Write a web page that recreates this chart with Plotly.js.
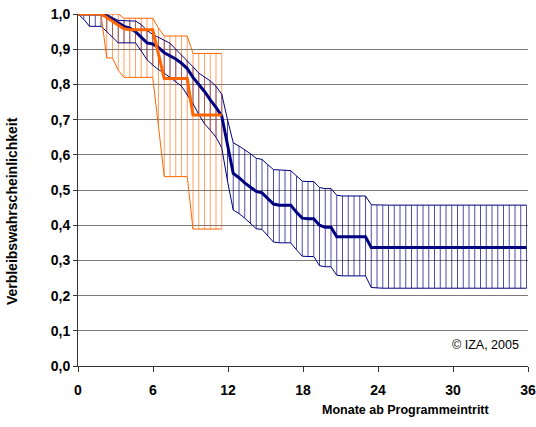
<!DOCTYPE html>
<html>
<head>
<meta charset="utf-8">
<script src="https://cdn.plot.ly/plotly-3.0.1.min.js"></script>
<style>
html, body { margin: 0; padding: 0; background: #fff; }
#chart { width: 536px; height: 427px; }
</style>
</head>
<body>
<div id="chart"></div>
<script>
// Months since programme entry (two-week steps)
const months = [0,0.46,0.92,1.38,1.84,2.30,2.76,3.22,3.68,4.14,4.60,5.06,5.52,5.98,6.44,6.90,7.36,7.82,8.28,8.74,9.20,9.66,10.12,10.58,11.04,11.50,11.96,12.42,12.88,13.34,13.80,14.26,14.72,15.18,15.64,16.10,16.56,17.02,17.48,17.94,18.40,18.86,19.32,19.78,20.24,20.70,21.16,21.62,22.08,22.54,23.00,23.46,23.92,24.38,24.84,25.30,25.76,26.22,26.68,27.14,27.60,28.06,28.52,28.98,29.44,29.90,30.36,30.82,31.28,31.74,32.20,32.66,33.12,33.58,34.04,34.50,34.96,35.42,35.88];

// Blue series: estimate and confidence band
const blueMain = [1.0,1.0,1.0,1.0,1.0,0.993,0.985,0.975,0.965,0.96,0.95,0.935,0.918,0.915,0.905,0.89,0.882,0.872,0.86,0.845,0.82,0.80,0.78,0.756,0.735,0.71,0.63,0.547,0.535,0.52,0.508,0.496,0.492,0.475,0.46,0.457,0.457,0.457,0.437,0.42,0.418,0.418,0.40,0.394,0.394,0.367,0.367,0.367,0.367,0.367,0.367,0.337,0.337,0.337,0.337,0.337,0.337,0.337,0.337,0.337,0.337,0.337,0.337,0.337,0.337,0.337,0.337,0.337,0.337,0.337,0.337,0.337,0.337,0.337,0.337,0.337,0.337,0.337,0.337];
const blueUpper = [1.0,1.0,1.0,1.0,1.0,1.0,0.99,0.982,0.981,0.981,0.98,0.97,0.953,0.942,0.934,0.925,0.917,0.90,0.884,0.868,0.85,0.832,0.82,0.81,0.795,0.772,0.70,0.634,0.625,0.615,0.603,0.59,0.587,0.572,0.558,0.557,0.557,0.555,0.54,0.525,0.524,0.524,0.507,0.504,0.504,0.485,0.483,0.483,0.483,0.483,0.483,0.458,0.457,0.457,0.457,0.457,0.457,0.457,0.457,0.457,0.457,0.457,0.457,0.457,0.457,0.457,0.457,0.457,0.457,0.457,0.457,0.457,0.457,0.457,0.457,0.457,0.457,0.457,0.457];
const blueLower = [1.0,0.985,0.965,0.965,0.965,0.95,0.935,0.918,0.918,0.918,0.918,0.895,0.87,0.855,0.842,0.832,0.82,0.808,0.795,0.77,0.745,0.715,0.688,0.67,0.65,0.62,0.525,0.443,0.433,0.42,0.405,0.39,0.388,0.37,0.352,0.35,0.35,0.35,0.33,0.312,0.311,0.311,0.285,0.282,0.282,0.258,0.256,0.256,0.256,0.256,0.256,0.223,0.221,0.221,0.221,0.221,0.221,0.221,0.221,0.221,0.221,0.221,0.221,0.221,0.221,0.221,0.221,0.221,0.221,0.221,0.221,0.221,0.221,0.221,0.221,0.221,0.221,0.221,0.221];

// Orange series (first 12 months)
const orangeMain  = [1.0,1.0,1.0,1.0,1.0,0.99,0.98,0.97,0.958,0.955,0.955,0.955,0.955,0.955,0.886,0.817,0.817,0.817,0.817,0.817,0.713,0.713,0.713,0.713,0.713,0.713];
const orangeUpper = [1.0,1.0,1.0,1.0,1.0,1.0,1.0,1.0,0.988,0.988,0.988,0.988,0.988,0.988,0.96,0.9375,0.9375,0.9375,0.9375,0.9375,0.888,0.888,0.888,0.888,0.888,0.888];
const orangeLower = [1.0,1.0,1.0,1.0,1.0,0.875,0.875,0.84,0.82,0.82,0.82,0.82,0.82,0.82,0.68,0.538,0.538,0.538,0.538,0.538,0.389,0.389,0.389,0.389,0.389,0.389];

const xTicks = [0,6,12,18,24,30,36];
const xTickText = ['0','6','12','18','24','30','36'];
const yTicks = [0,0.1,0.2,0.3,0.4,0.5,0.6,0.7,0.8,0.9,1.0];
const yTickText = ['0,0','0,1','0,2','0,3','0,4','0,5','0,6','0,7','0,8','0,9','1,0'];

const NAVY = '#000080', ORANGE = '#FF6600';
const FONT = 'Arial, Liberation Sans, sans-serif';
const oMonths = months.slice(0, orangeMain.length);
const bold = s => '<b>' + s + '</b>';

function hatch(x, lo, hi, color) {
  return {
    x: x, y: lo, type: 'scatter', mode: 'markers',
    marker: {size: 1, color: 'rgba(0,0,0,0)'},
    error_y: {type: 'data', symmetric: false,
      array: hi.map((v, i) => v - lo[i]), arrayminus: lo.map(() => 0),
      width: 0, thickness: 1, color: color},
    hoverinfo: 'skip', showlegend: false
  };
}
function line(x, y, color, w) {
  return {x: x, y: y, type: 'scatter', mode: 'lines',
    line: {color: color, width: w}, hoverinfo: 'skip', showlegend: false};
}

const data = [
  hatch(months, blueLower, blueUpper, 'rgba(0,0,128,0.7)'),
  hatch(oMonths, orangeLower, orangeUpper, 'rgba(255,102,0,0.6)'),
  line(months, blueUpper, NAVY, 1),
  line(months, blueLower, NAVY, 1),
  line(oMonths, orangeUpper, ORANGE, 1),
  line(oMonths, orangeLower, ORANGE, 1),
  line(months, blueMain, NAVY, 3),
  line(oMonths, orangeMain, ORANGE, 3)
];

const tickFont = {family: FONT, size: 14, color: '#000'};

const layout = {
  width: 536, height: 427,
  margin: {l: 78, r: 8, t: 14, b: 61},
  paper_bgcolor: '#fff', plot_bgcolor: '#fff',
  showlegend: false,
  xaxis: {
    range: [0, 36], tickvals: xTicks, ticktext: xTickText.map(bold),
    ticks: 'outside', ticklen: 5, tickcolor: '#333', tickwidth: 1,
    showline: true, linecolor: '#333', linewidth: 1,
    showgrid: false, zeroline: false, tickfont: tickFont,
    ticklabelstandoff: 6, fixedrange: true
  },
  yaxis: {
    range: [0, 1.0], tickvals: yTicks, ticktext: yTickText.map(bold),
    ticks: 'outside', ticklen: 4, tickcolor: '#333', tickwidth: 1,
    showline: true, linecolor: '#333', linewidth: 1,
    showgrid: true, gridcolor: '#7a7a7a', gridwidth: 1,
    zeroline: false, tickfont: tickFont, fixedrange: true
  },
  annotations: [
    {text: bold('Verbleibswahrscheinlichkeit'), xref: 'paper', yref: 'paper',
     x: 0, y: 0.44, xshift: -66, xanchor: 'center', yanchor: 'middle',
     textangle: -90, showarrow: false,
     font: {family: FONT, size: 14, color: '#000'}},
    {text: bold('Monate ab Programmeintritt'), xref: 'paper', yref: 'paper',
     x: 0.729, y: -0.125, xanchor: 'center', yanchor: 'middle', showarrow: false,
     font: {family: FONT, size: 12.5, color: '#000'}},
    {text: '© IZA, 2005', xref: 'paper', yref: 'paper',
     x: 1, y: 0.06, xshift: -7, xanchor: 'right', yanchor: 'middle', showarrow: false,
     font: {family: FONT, size: 12.5, color: '#000'}}
  ]
};

Plotly.newPlot('chart', data, layout, {staticPlot: true, displayModeBar: false});
</script>
</body>
</html>
